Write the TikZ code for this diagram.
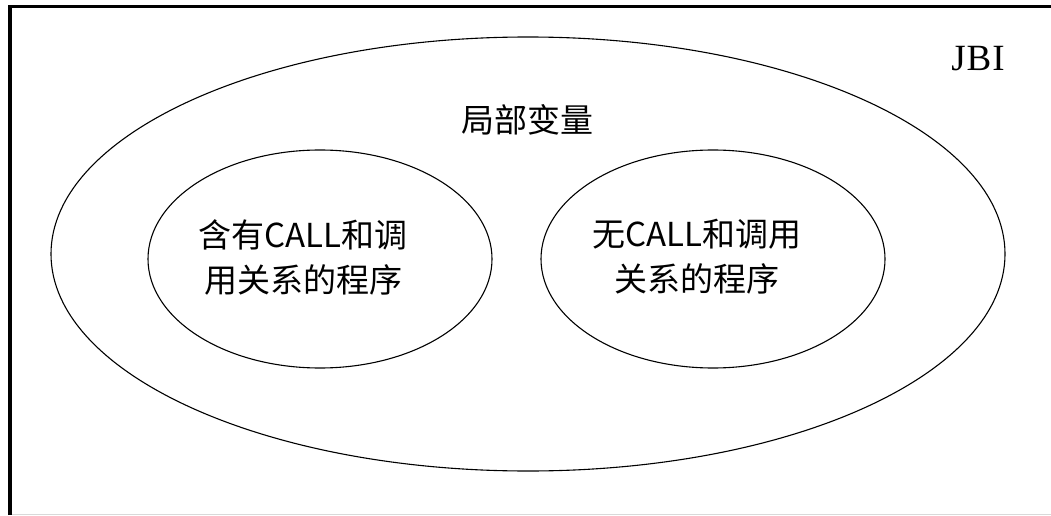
\documentclass[tikz,border=0pt]{standalone}
\usepackage{fontspec}
\setmainfont{Liberation Serif}
\newfontfamily\cjk{Noto Sans CJK SC}
\begin{document}
\begin{tikzpicture}[x=1pt,y=1pt,
  lbl/.style={font=\cjk\fontsize{33}{45}\selectfont,align=center,inner sep=0pt}]
\useasboundingbox (0,0) rectangle (1051,515);
\fill[white] (0,0) rectangle (1051,515);
\draw[black!15,line width=1pt] (9,1) -- (1051,1);
\draw[black,line width=3.5pt] (9.8,0) -- (9.8,508.5) -- (1051,508.5);
\draw[line width=1.1pt] (528,261) ellipse [x radius=477,y radius=217];
\draw[line width=1.1pt] (320,256) ellipse [x radius=172,y radius=109];
\draw[line width=1.1pt] (713,256) ellipse [x radius=172,y radius=109];
\node[lbl] (bj) at (527,395) {局部变量};
\node[font=\fontsize{37}{40}\selectfont,inner sep=0pt] (jbi) at (978,456) {J\kern1pt B\kern1pt I};
\node[lbl] (l) at (303,258) {含有CALL和调\\用关系的程序};
\node[lbl] (r) at (697,258) {无CALL和调用\\关系的程序};
\end{tikzpicture}
\end{document}
